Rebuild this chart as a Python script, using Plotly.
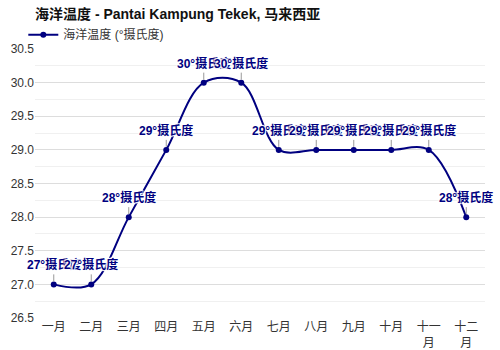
import plotly.graph_objects as go

months = ["一月", "二月", "三月", "四月", "五月", "六月", "七月", "八月", "九月", "十月", "十一月", "十二月"]
tick_labels = ["一月", "二月", "三月", "四月", "五月", "六月", "七月", "八月", "九月", "十月", "十一<br>月", "十二<br>月"]
sea_temp = [27, 27, 28, 29, 30, 30, 29, 29, 29, 29, 29, 28]
point_labels = [f"{v}°摄氏度" for v in sea_temp]

FONT = "Liberation Sans, Arial, Noto Sans CJK SC, sans-serif"
NAVY = "#000080"

fig = go.Figure()
fig.add_trace(go.Scatter(
    x=months, y=sea_temp, mode="lines+markers",
    name="海洋温度 (°摄氏度)",
    line=dict(color=NAVY, width=2, shape="spline", smoothing=1),
    marker=dict(color=NAVY, size=6),
))

for m, v, t in zip(months, sea_temp, point_labels):
    fig.add_annotation(
        x=m, y=v, text=f"<b>{t}</b>", showarrow=True, arrowhead=0,
        arrowwidth=1, arrowcolor="#999999", ax=0, ay=-10, standoff=3,
        yanchor="bottom",
        font=dict(family=FONT, size=12, color=NAVY, shadow="1px 1px 1px white, -1px -1px 1px white, 1px -1px 1px white, -1px 1px 1px white"),
    )

fig.update_layout(
    width=500, height=350,
    margin=dict(l=35, r=15, t=49, b=32, autoexpand=False),
    paper_bgcolor="white", plot_bgcolor="white",
    font=dict(family=FONT, size=12, color="#333333"),
    title=dict(text="<b>海洋温度 - Pantai Kampung Tekek, 马来西亚</b>", x=0, xref="paper", y=0.96, yref="container",
               xanchor="left", yanchor="middle", font=dict(size=14, color="#111111")),
    showlegend=True,
    legend=dict(x=-0.026, y=0.942, xref="paper", yref="container", xanchor="left", yanchor="top",
                orientation="h", font=dict(size=12, color="#333333"), bgcolor="rgba(0,0,0,0)",
                itemwidth=30, tracegroupgap=0),
    xaxis=dict(type="category", tickvals=months, ticktext=tick_labels, range=[-0.5, 11.5], automargin=False,
               showgrid=False, zeroline=False, showline=False, ticks="", tickfont=dict(size=12, color="#333333")),
    yaxis=dict(range=[26.5, 30.5], dtick=0.5, tickformat=".1f", showgrid=True, gridcolor="#dddddd", automargin=False,
               zeroline=False, showline=False, ticks="", tickfont=dict(size=12, color="#333333"),
               minor=dict(dtick=0.25, showgrid=True, gridcolor="#f0f0f0")),
)

fig.write_html("out.html")
